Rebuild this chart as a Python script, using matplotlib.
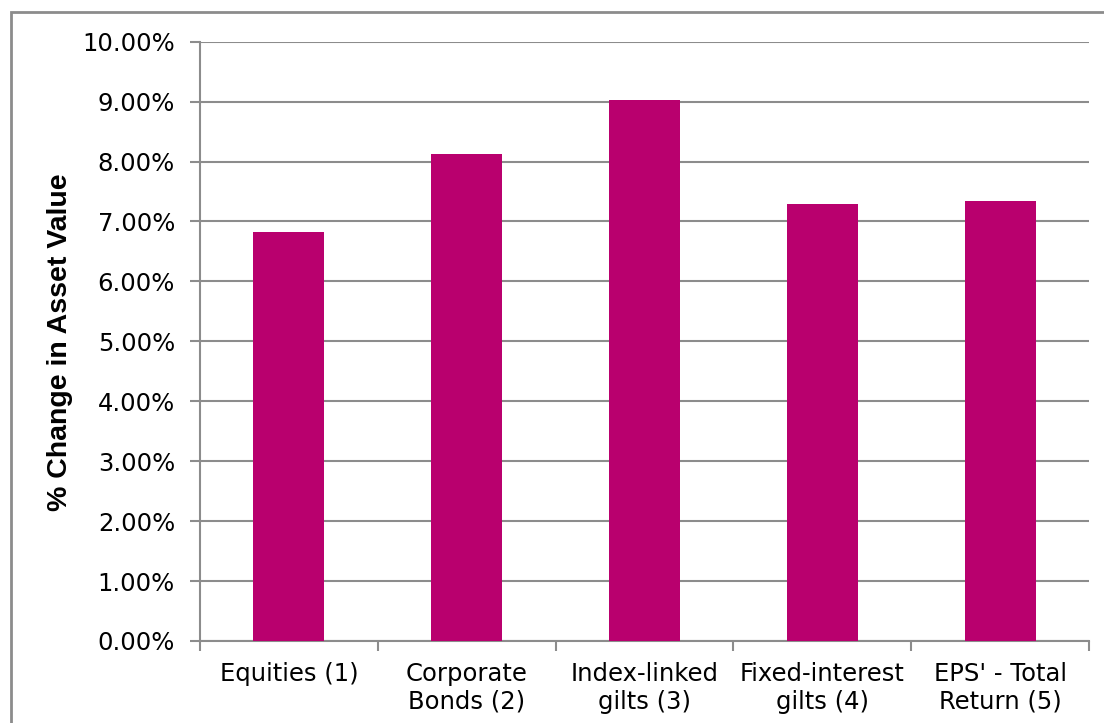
import numpy as np
import matplotlib
matplotlib.use('Agg')
import matplotlib.pyplot as plt
from matplotlib.patches import Rectangle
from matplotlib.ticker import FuncFormatter

categories = ['Equities (1)', 'Corporate\nBonds (2)', 'Index-linked\ngilts (3)',
              'Fixed-interest\ngilts (4)', "EPS' - Total\nReturn (5)"]
values = [6.82, 8.12, 9.03, 7.30, 7.35]  # % change in asset value
yticks = np.arange(0, 10.01, 1.0)

W, H = 1104, 723
fig = plt.figure(figsize=(W / 100, H / 100), dpi=100)
fig.patch.set_facecolor('white')

# outer chart border (runs off right / bottom edge)
fig.patches.append(Rectangle((11 / W, -0.1), 1.2, 1 - 12 / H + 0.1,
                             transform=fig.transFigure, fill=False,
                             edgecolor='#8c8c8c', linewidth=2))

ax = fig.add_axes([200 / W, 1 - 641 / H, (1089 - 200) / W, (641 - 41.7) / H])
x = np.arange(len(categories))
ax.bar(x, values, width=0.4, color='#B9006E', zorder=3)

ax.set_xlim(-0.5, len(categories) - 0.5)
ax.set_ylim(0, 10)
ax.set_yticks(yticks)
ax.yaxis.set_major_formatter(FuncFormatter(lambda v, p: f'{v:.2f}%'))
ax.grid(axis='y', color='#8c8c8c', linewidth=1.5, zorder=0)

ax.set_xticks(x)
ax.set_xticklabels(categories, fontsize=17.5, linespacing=1.2)
ax.set_xticks(np.arange(-0.5, len(categories)), minor=True)
ax.tick_params(axis='x', which='major', length=0, pad=15)
ax.tick_params(axis='x', which='minor', length=7, width=1.5, color='#8c8c8c')
ax.tick_params(axis='y', length=7, width=1.5, color='#8c8c8c', labelsize=17.5, pad=11)

for s in ['top', 'right']:
    ax.spines[s].set_visible(False)
for s in ['left', 'bottom']:
    ax.spines[s].set_color('#8c8c8c')
    ax.spines[s].set_linewidth(1.5)

fig.text(60 / W, 1 - 342 / H, '% Change in Asset Value', rotation=90,
         ha='center', va='center', fontsize=20.5, fontweight='bold',
         family='Liberation Sans')

fig.savefig('out.png', dpi=100)
